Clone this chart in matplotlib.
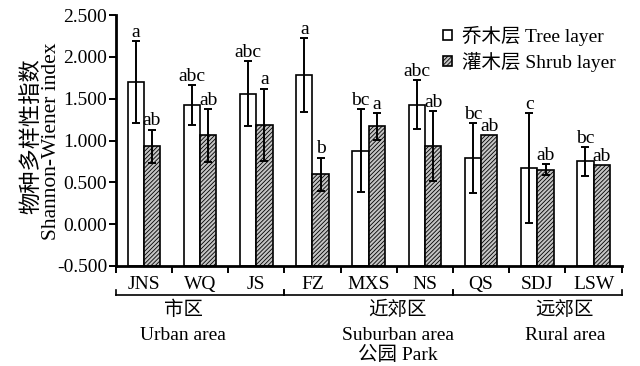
import numpy as np
import matplotlib
matplotlib.use("Agg")
import matplotlib.pyplot as plt
from matplotlib.patches import Patch

plt.rcParams['font.family'] = ['Liberation Serif', 'Noto Sans CJK SC']
plt.rcParams['axes.unicode_minus'] = False
plt.rcParams['hatch.linewidth'] = 0.6
plt.rcParams['hatch.color'] = '#444444'

# Shannon-Wiener index per park (mean ± SD)
sites = ['JNS', 'WQ', 'JS', 'FZ', 'MXS', 'NS', 'QS', 'SDJ', 'LSW']
tree = [1.70, 1.42, 1.56, 1.78, 0.88, 1.43, 0.79, 0.67, 0.75]
tree_err = [0.49, 0.24, 0.39, 0.44, 0.50, 0.29, 0.42, 0.66, 0.17]
shrub = [0.93, 1.06, 1.19, 0.595, 1.17, 0.93, 1.06, 0.65, 0.71]
shrub_err = [0.20, 0.32, 0.43, 0.20, 0.16, 0.42, 0.0, 0.065, 0.0]
tree_sig = ['a', 'abc', 'abc', 'a', 'bc', 'abc', 'bc', 'c', 'bc']
shrub_sig = ['ab', 'ab', 'a', 'b', 'a', 'ab', 'ab', 'ab', 'ab']
yticks = [-0.5, 0.0, 0.5, 1.0, 1.5, 2.0, 2.5]

# region groups: (first index, last index, label lines, label x position)
groups = [(0, 2, ['市区', 'Urban area'], 0.70),
          (3, 5, ['近郊区', 'Suburban area', '公园 Park'], 4.52),
          (6, 8, ['远郊区', 'Rural area'], 7.49)]

FS = 14
base = -0.5
w = 0.29
off = 0.145
SHRUB_FC = '#c4c4c4'
SHRUB_HATCH = '////////'

fig = plt.figure(figsize=(6.4, 3.66), dpi=100)
ax = fig.add_axes([115.7 / 640, 1 - 266 / 366, (621.7 - 115.7) / 640, (266 - 15) / 366])

x = np.arange(len(sites))
xt = x - off
xs = x + off
tree_a = np.array(tree)
shrub_a = np.array(shrub)

ax.bar(xt, tree_a - base, bottom=base, width=w, facecolor='white',
       edgecolor='black', linewidth=1.2, zorder=2)
ax.bar(xs, shrub_a - base, bottom=base, width=w, facecolor=SHRUB_FC,
       edgecolor='black', linewidth=1.2, hatch=SHRUB_HATCH, zorder=2)

te = np.array(tree_err)
se = np.array(shrub_err)
ax.errorbar(xt, tree_a, yerr=te, fmt='none', ecolor='black', elinewidth=1.4,
            capsize=2.8, capthick=1.4, zorder=3)
m = se > 0
ax.errorbar(xs[m], shrub_a[m], yerr=se[m], fmt='none', ecolor='black',
            elinewidth=1.4, capsize=2.8, capthick=1.4, zorder=3)

for xi, top, s in zip(xt, tree_a + te, tree_sig):
    ax.annotate(s, (xi, top), xytext=(0, 3), textcoords='offset points',
                ha='center', va='baseline', fontsize=FS)
for xi, top, s in zip(xs, shrub_a + se, shrub_sig):
    ax.annotate(s, (xi, top), xytext=(0, 3), textcoords='offset points',
                ha='center', va='baseline', fontsize=FS)

ax.set_xlim(-0.5, len(sites) - 0.5)
ax.set_ylim(-0.5, 2.5)
ax.set_yticks(yticks)
ax.set_yticklabels([f'{v:.3f}' for v in yticks], fontsize=FS)
ax.tick_params(axis='y', direction='out', length=5, width=1.4, pad=1)

# boundary ticks between sites, labels at site centres
ax.set_xticks(np.arange(len(sites) + 1) - 0.5)
ax.set_xticklabels([])
ax.tick_params(axis='x', which='major', direction='out', length=5, width=1.4)
ax.set_xticks(x, minor=True)
ax.set_xticklabels(sites, minor=True, fontsize=FS)
ax.tick_params(axis='x', which='minor', length=0, pad=7)

for sp in ['top', 'right']:
    ax.spines[sp].set_visible(False)
for sp in ['left', 'bottom']:
    ax.spines[sp].set_linewidth(2.0)

# group brackets under the site labels
trans = ax.get_xaxis_transform()
yb = -(295 - 266) / 251
yt = -(290 - 266) / 251
ax.plot([-0.5, len(sites) - 0.5], [yb, yb], color='black', lw=1.2,
        transform=trans, clip_on=False)
for g0, g1, _, _ in groups:
    for b in (g0 - 0.5, g1 + 0.5):
        ax.plot([b, b], [yb, yt], color='black', lw=1.2, transform=trans,
                clip_on=False)

line_y = [-(310 - 266) / 251, -(335 - 266) / 251, -(355 - 266) / 251]
for g0, g1, lines, gx in groups:
    for ly, txt in zip(line_y, lines):
        ax.text(gx, ly, txt, transform=trans, ha='center', va='center',
                fontsize=FS)

# y-axis title, two lines
fig.text(32 / 640, 1 - 136 / 366, '物种多样性指数', rotation=90,
         ha='center', va='center', fontsize=16)
fig.text(52 / 640, 1 - 141 / 366, 'Shannon-Wiener index', rotation=90,
         ha='center', va='center', fontsize=15.5)

handles = [Patch(facecolor='white', edgecolor='black', linewidth=1.2),
           Patch(facecolor=SHRUB_FC, edgecolor='black', linewidth=1.2,
                 hatch=SHRUB_HATCH)]
fig.legend(handles, ['乔木层 Tree layer', '灌木层 Shrub layer'],
           loc='upper left', bbox_to_anchor=(443 / 640, 1 - 26 / 366),
           frameon=False, fontsize=FS, handlelength=0.45, handleheight=0.45,
           handletextpad=0.55, borderpad=0, borderaxespad=0,
           labelspacing=0.3)

fig.savefig('out.png', dpi=100)
